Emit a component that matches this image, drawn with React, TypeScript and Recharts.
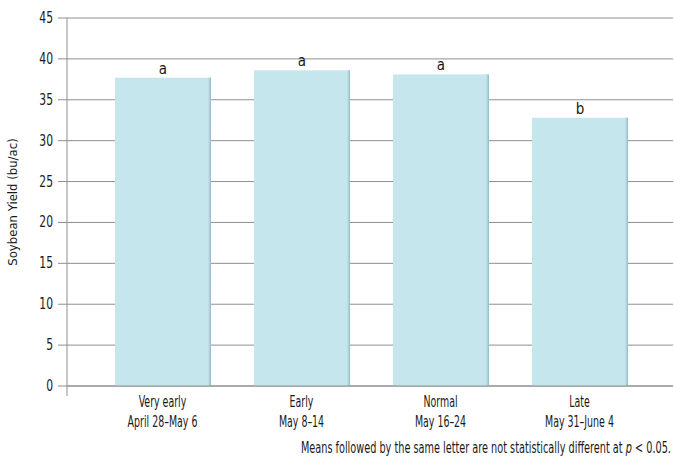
import React from 'react';
import {
  BarChart,
  Bar,
  XAxis,
  YAxis,
  CartesianGrid,
  LabelList,
  usePlotArea
} from 'recharts';

const periods = ['Very early', 'Early', 'Normal', 'Late'];
const dateRanges = ['April 28–May 6', 'May 8–14', 'May 16–24', 'May 31–June 4'];
const yields = [37.7, 38.6, 38.1, 32.8];
const letters = ['a', 'a', 'a', 'b'];
const yTicks = [0, 5, 10, 15, 20, 25, 30, 35, 40, 45];

const data = periods.map((p, i) => ({
  period: p,
  dates: dateRanges[i],
  yield: yields[i],
  letter: letters[i]
}));

const FONT = '"DejaVu Sans Condensed", "DejaVu Sans", sans-serif';
const TXT = { fontFamily: FONT, fontStretch: 'condensed' as const };
const GRID = '#8f8f8f';
const SQUEEZE = 0.7; // reference uses a very narrow face

const CategoryTick = (props: any) => {
  const { x, y, payload, index } = props;
  return (
    <g transform={`translate(${x},${y})`}>
      <text transform={`scale(${SQUEEZE},1)`} textAnchor="middle" style={TXT} fontSize={15} fill="#1a1a1a">
        <tspan x={0} dy={13}>{payload.value}</tspan>
        <tspan x={0} dy={20}>{dateRanges[index]}</tspan>
      </text>
    </g>
  );
};

const ValueTick = (props: any) => {
  const { x, y, payload } = props;
  return (
    <g transform={`translate(${x},${y})`}>
      <text transform={`scale(0.8,1)`} textAnchor="end" dy={5} style={TXT} fontSize={15} fill="#1a1a1a">
        {payload.value}
      </text>
    </g>
  );
};

const ShadedBar = (props: any) => {
  const { x, y, width, height } = props;
  if (!height || height <= 0) return null;
  return (
    <g>
      <defs>
        <linearGradient id="barEdge" x1="0" y1="0" x2="1" y2="0">
          <stop offset="0%" stopColor="#c5e6ed" />
          <stop offset="100%" stopColor="#93bcc6" />
        </linearGradient>
      </defs>
      <rect x={x} y={y} width={width} height={height} fill="#c5e6ed" />
      <rect x={x + width - 3} y={y} width={3} height={height} fill="url(#barEdge)" />
    </g>
  );
};

// little tick that pokes below the x axis at the origin
const OriginTick = () => {
  const area = usePlotArea();
  if (!area) return null;
  const bottom = area.y + area.height;
  return <line x1={area.x} x2={area.x} y1={bottom} y2={bottom + 10} stroke={GRID} strokeWidth={1} />;
};

export default function App() {
  return (
    <div style={{ position: 'absolute', left: 0, top: 0, width: 674, height: 460, background: '#fff' }}>
      <BarChart
        width={674}
        height={460}
        data={data}
        margin={{ top: 18, right: 1, bottom: 0, left: 0 }}
        barSize={96}
      >
        <CartesianGrid vertical={false} stroke={GRID} strokeWidth={1} />
        <XAxis
          dataKey="period"
          axisLine={{ stroke: GRID }}
          tickLine={false}
          tick={<CategoryTick />}
          padding={{ left: 26, right: 24 }}
          interval={0}
          height={74}
        />
        <YAxis
          width={67}
          domain={[0, 45]}
          ticks={yTicks}
          interval={0}
          axisLine={{ stroke: GRID }}
          tickLine={{ stroke: GRID }}
          tickSize={9}
          tickMargin={5}
          tick={<ValueTick />}
          label={{
            value: 'Soybean Yield (bu/ac)',
            angle: -90,
            position: 'insideLeft',
            offset: 12,
            style: { ...TXT, fontSize: 13, fill: '#1a1a1a', textAnchor: 'middle' }
          }}
        />
        <Bar dataKey="yield" shape={<ShadedBar />} isAnimationActive={false}>
          <LabelList
            dataKey="letter"
            position="top"
            offset={4}
            style={{ ...TXT, fontSize: 15, fill: '#1a1a1a' }}
          />
        </Bar>
        <OriginTick />
      </BarChart>
      <div
        style={{
          position: 'absolute',
          right: 3,
          top: 439,
          ...TXT,
          fontSize: 15,
          color: '#1a1a1a',
          whiteSpace: 'nowrap',
          transform: 'scaleX(0.72)',
          transformOrigin: 'right center'
        }}
      >
        Means followed by the same letter are not statistically different at <i>p</i> &lt; 0.05.
      </div>
    </div>
  );
}
